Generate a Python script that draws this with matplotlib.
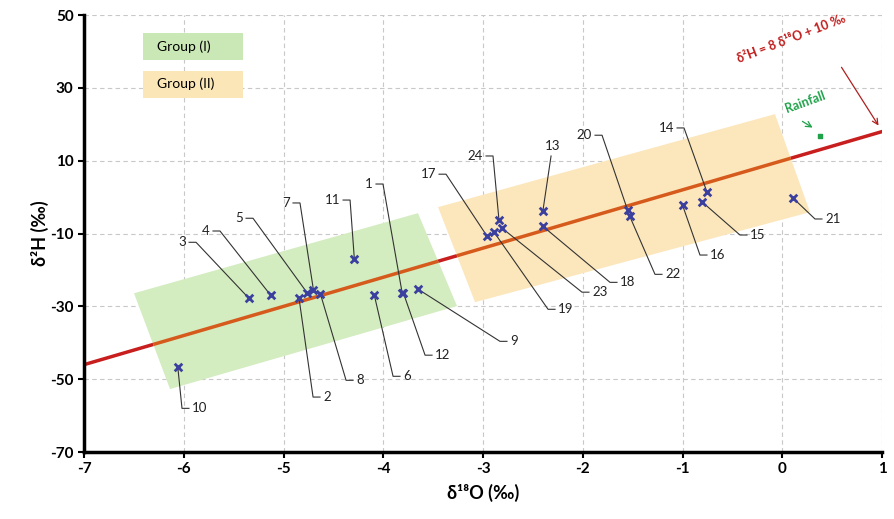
import matplotlib.pyplot as plt
from matplotlib.patches import Polygon, Rectangle
import numpy as np

plt.rcParams['font.family'] = ['Lato', 'DejaVu Sans']
plt.rcParams['axes.unicode_minus'] = False

# sample values (d18O, d2H)
sample_ids = [str(i) for i in range(1, 25)]
d18o = [-3.81, -4.845, -5.35, -5.13, -4.76, -4.09, -4.70, -4.63, -3.65, -6.06, -4.29, -3.80,
        -2.40, -0.755, -0.80, -1.00, -2.96, -2.40, -2.89, -1.55, 0.11, -1.53, -2.81, -2.84]
d2h = [-26.4, -27.7, -27.7, -26.9, -26.4, -26.9, -25.5, -26.6, -25.3, -46.7, -17.0, -26.2,
       -3.8, 1.4, -1.4, -2.2, -10.7, -8.0, -9.6, -3.6, -0.3, -5.2, -8.5, -6.3]
rain_d18o = [0.38]
rain_d2h = [16.8]

# global meteoric water line
lmwl_slope = 8
lmwl_intercept = 10
x_ticks = [-7, -6, -5, -4, -3, -2, -1, 0, 1]
y_ticks = [-70, -50, -30, -10, 10, 30, 50]

# label elbow positions and which side the number sits on
label_x = [-4.003, -4.704, -5.877, -5.637, -5.306, -3.902, -4.835, -4.373, -2.830, -6.018, -4.333, -3.581,
           -2.318, -0.985, -0.424, -0.825, -3.371, -1.727, -2.348, -1.807, 0.328, -1.276, -2.008, -2.900]
label_y = [3.6, -54.9, -12.4, -9.3, -5.8, -49.2, -1.6, -50.3, -39.6, -58.0, -0.8, -43.4,
           11.3, 19.0, -10.4, -15.9, 6.3, -23.4, -30.8, 17.0, -6.0, -21.2, -26.1, 11.3]
label_side = ['L', 'R', 'L', 'L', 'L', 'R', 'L', 'R', 'R', 'R', 'L', 'R',
              'T', 'L', 'R', 'R', 'L', 'R', 'R', 'L', 'R', 'R', 'R', 'L']

# group bands
band1 = [(-6.499, -26.4), (-6.138, -52.7), (-3.261, -29.9), (-3.652, -4.4)]
band2 = [(-3.451, -2.75), (-3.080, -28.85), (0.278, -4.12), (-0.073, 22.8)]

fig = plt.figure(figsize=(8.94, 5.19), dpi=100)
ax = fig.add_axes([0.094, 0.129, 0.8926, 0.842])
ax.set_xlim(-7, 1)
ax.set_ylim(-70, 50)

ax.grid(True, color='#c8c8c8', linestyle=(0, (4, 3)), linewidth=0.8)
ax.set_axisbelow(True)

xs = np.array([-7, 1])
ys = lmwl_slope * xs + lmwl_intercept
ax.plot(xs, ys, color='#c81e1e', lw=2.5, zorder=2)

p1 = Polygon(band1, closed=True, facecolor='#d3ecc0', edgecolor='none', zorder=3)
p2 = Polygon(band2, closed=True, facecolor='#fce7bc', edgecolor='none', zorder=3)
ax.add_patch(p1)
ax.add_patch(p2)
for p in (p1, p2):
    seg, = ax.plot(xs, ys, color='#d65a1c', lw=2.5, zorder=3.5)
    seg.set_clip_path(p)

ax.scatter(d18o, d2h, marker='x', s=30, color='#3b3f9e', linewidths=2, zorder=5)
ax.scatter(rain_d18o, rain_d2h, marker='s', s=12, color='#1fa24a', zorder=5)

stub = 0.07
gap = 0.10
for i, lab in enumerate(sample_ids):
    px, py = d18o[i], d2h[i]
    cx, cy = label_x[i], label_y[i]
    side = label_side[i]
    if side == 'L':
        ax.plot([px, cx, cx - stub], [py, cy, cy], color='#333333', lw=0.8, zorder=4)
        ax.text(cx - gap, cy, lab, ha='right', va='center', fontsize=9.5, color='#222222')
    elif side == 'R':
        ax.plot([px, cx, cx + stub], [py, cy, cy], color='#333333', lw=0.8, zorder=4)
        ax.text(cx + gap, cy, lab, ha='left', va='center', fontsize=9.5, color='#222222')
    else:
        ax.plot([px, cx], [py, cy], color='#333333', lw=0.8, zorder=4)
        ax.text(cx + 0.02, cy + 1.0, lab, ha='center', va='bottom', fontsize=9.5, color='#222222')

# equation label
ax.text(0.09, 43.5, 'δ²H = 8 δ¹⁸O + 10 ‰', color='#c01c1c', fontsize=9, fontweight='bold',
        rotation=21, ha='center', va='center')
ax.annotate('', xy=(0.98, 19.0), xytext=(0.579, 36.3),
            arrowprops=dict(arrowstyle='->', color='#b02020', lw=0.9))

ax.text(0.228, 26.1, 'Rainfall', color='#1fa24a', fontsize=9, fontweight='bold',
        rotation=20, ha='center', va='center')
ax.annotate('', xy=(0.328, 18.7), xytext=(0.178, 21.2),
            arrowprops=dict(arrowstyle='->', color='#1fa24a', lw=0.9))

# group legend boxes
ax.add_patch(Rectangle((0.074, 0.896), 0.125, 0.062, transform=ax.transAxes,
                       facecolor='#c9e8b5', edgecolor='none', zorder=4))
ax.text(0.092, 0.927, 'Group (I)', transform=ax.transAxes, fontsize=10, va='center', zorder=5)
ax.add_patch(Rectangle((0.074, 0.811), 0.125, 0.062, transform=ax.transAxes,
                       facecolor='#fbe6b8', edgecolor='none', zorder=4))
ax.text(0.092, 0.842, 'Group (II)', transform=ax.transAxes, fontsize=10, va='center', zorder=5)

ax.set_xticks(x_ticks)
ax.set_yticks(y_ticks)
for t in ax.get_xticklabels() + ax.get_yticklabels():
    t.set_fontweight('bold')
    t.set_fontsize(11)
ax.tick_params(length=4, width=1.5, color='black')

for s in ['top', 'right']:
    ax.spines[s].set_visible(False)
for s in ['left', 'bottom']:
    ax.spines[s].set_linewidth(2.5)

ax.set_xlabel('δ¹⁸O (‰)', fontsize=13, fontweight='bold', labelpad=5)
ax.set_ylabel('δ²H (‰)', fontsize=13, fontweight='bold', labelpad=1)

fig.savefig('out.png', dpi=100)
